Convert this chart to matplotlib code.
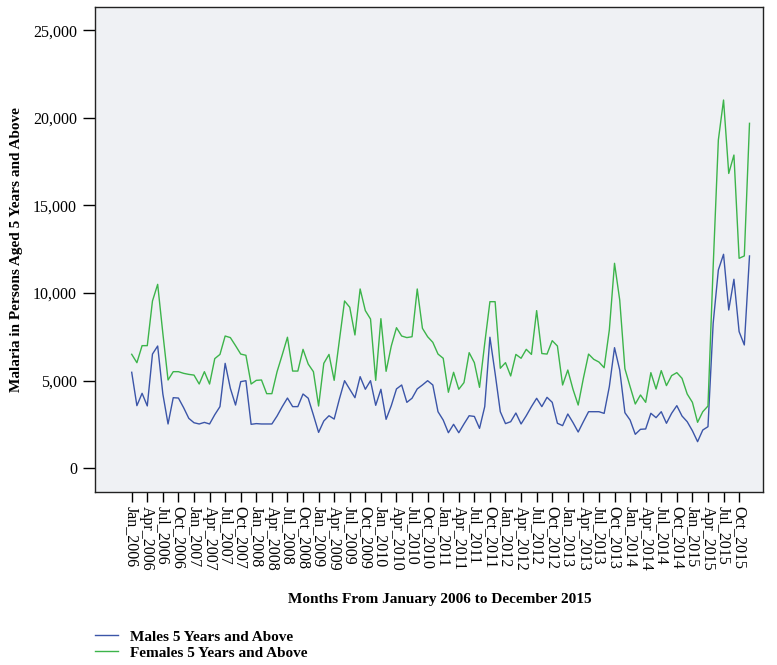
import matplotlib
matplotlib.use("Agg")
import matplotlib.pyplot as plt
from matplotlib.lines import Line2D

months = ["Jan", "Feb", "Mar", "Apr", "May", "Jun", "Jul", "Aug", "Sep", "Oct", "Nov", "Dec"]
years = list(range(2006, 2016))
month_labels = [f"{m}_{y}" for y in years for m in months]

males = [
    5480, 3575, 4280, 3560, 6520, 6980, 4240, 2530, 4030, 4010, 3460, 2850,
    2600, 2530, 2620, 2530, 3060, 3520, 5990, 4565, 3610, 4945, 5000, 2510,
    2550, 2530, 2530, 2530, 2985, 3520, 4010, 3520, 3520, 4240, 4000, 3040,
    2050, 2700, 3000, 2810, 3950, 5000, 4510, 4030, 5230, 4510, 5000, 3595,
    4510, 2795, 3575, 4530, 4755, 3765, 4000, 4530, 4755, 5000, 4755, 3230,
    2755, 2030, 2510, 2030, 2530, 3000, 2960, 2280, 3520, 7480, 5420, 3230,
    2550, 2660, 3155, 2530, 3000, 3520, 3995, 3520, 4050, 3765, 2570, 2435,
    3100, 2610, 2070, 2660, 3230, 3230, 3230, 3135, 4660, 6885, 5610, 3175,
    2755, 1940, 2225, 2245, 3140, 2890, 3230, 2570, 3140, 3575, 2985, 2660,
    2145, 1520, 2185, 2375, 8275, 11320, 12215, 9035, 10790, 7800, 7040, 12120,
]

females = [
    6507, 6028, 7000, 7000, 9550, 10500, 7700, 5040, 5515, 5515, 5420, 5360,
    5320, 4810, 5515, 4810, 6260, 6500, 7550, 7460, 7000, 6520, 6450, 4810,
    5020, 5040, 4260, 4260, 5515, 6480, 7480, 5550, 5550, 6790, 5950, 5515,
    3555, 5990, 6500, 5020, 7300, 9550, 9190, 7610, 10235, 9000, 8520, 5020,
    8540, 5535, 6980, 8025, 7550, 7460, 7510, 10235, 7990, 7510, 7190, 6520,
    6280, 4340, 5480, 4510, 4890, 6600, 6030, 4620, 7135, 9510, 9510, 5710,
    6030, 5270, 6500, 6280, 6790, 6500, 9000, 6550, 6520, 7285, 6980, 4755,
    5610, 4510, 3610, 5135, 6520, 6220, 6065, 5740, 7895, 11700, 9605, 5685,
    4660, 3670, 4185, 3765, 5460, 4525, 5575, 4720, 5290, 5460, 5135, 4240,
    3765, 2625, 3230, 3555, 11500, 18740, 21020, 16830, 17880, 11985, 12120, 19690,
]

y_ticks = [0, 5000, 10000, 15000, 20000, 25000]
y_tick_labels = ["0", "5,000", "10,000", "15,000", "20,000", "25,000"]
series_names = ["Males 5 Years and Above", "Females 5 Years and Above"]
colors = ["#3b55a8", "#3cb44a"]

serif = ["Liberation Serif", "DejaVu Serif"]
plt.rcParams["font.family"] = serif

W, H = 777, 665
fig = plt.figure(figsize=(W / 100, H / 100), dpi=100)
ax = fig.add_axes([95 / W, 1 - 492 / H, (763 - 95) / W, (492 - 7) / H])
ax.set_facecolor("#eff1f4")

x = list(range(len(month_labels)))
ax.plot(x, males, color=colors[0], lw=1.0)
ax.plot(x, females, color=colors[1], lw=1.0)

ax.set_xlim(-7.07, 121.6)
ax.set_ylim(-1353, 26330)

tick_idx = list(range(0, 118, 3))
ax.set_xticks(tick_idx)
ax.set_xticklabels([month_labels[i] for i in tick_idx], rotation=-90, fontsize=11.5)
ax.set_yticks(y_ticks)
ax.set_yticklabels(y_tick_labels, fontsize=11.5)
ax.tick_params(axis="y", length=9, width=1, pad=4)
ax.tick_params(axis="x", length=7, width=1, pad=3)
for sp in ax.spines.values():
    sp.set_linewidth(1.0)
    sp.set_color("#222222")

fig.text(17 / W, 1 - 250 / H, "Malaria in Persons Aged 5 Years and Above",
         rotation=90, ha="center", va="center", fontsize=11, fontweight="bold")
fig.text(440 / W, 1 - 600 / H, "Months From January 2006 to December 2015",
         ha="center", va="center", fontsize=11, fontweight="bold")

handles = [Line2D([], [], color=c, lw=1.0) for c in colors]
fig.legend(handles, series_names, loc="upper left",
           bbox_to_anchor=(95 / W, 1 - 630 / H), frameon=False,
           handlelength=1.5, handletextpad=0.8, labelspacing=0.15,
           borderaxespad=0, borderpad=0,
           prop={"family": serif, "weight": "bold", "size": 11})

fig.savefig("out.png", dpi=100, facecolor="white")
